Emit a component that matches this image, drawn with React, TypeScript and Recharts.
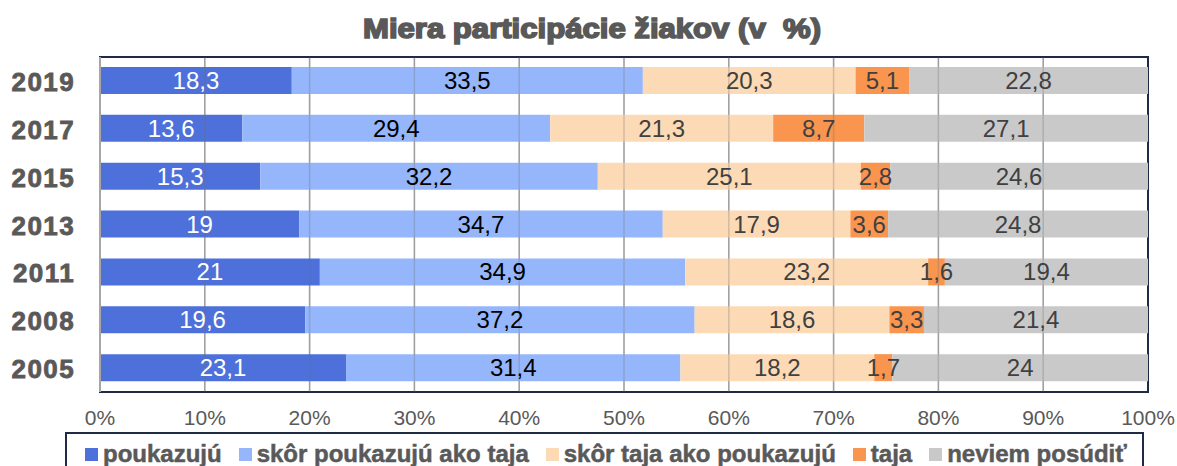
import React from "react";
import {
  BarChart,
  Bar,
  XAxis,
  YAxis,
  CartesianGrid,
  LabelList,
  ReferenceLine,
  ReferenceArea,
} from "recharts";

const years = ["2019", "2017", "2015", "2013", "2011", "2008", "2005"];
const poukazuju = [18.3, 13.6, 15.3, 19, 21, 19.6, 23.1];
const skorPoukazuju = [33.5, 29.4, 32.2, 34.7, 34.9, 37.2, 31.4];
const skorTaja = [20.3, 21.3, 25.1, 17.9, 23.2, 18.6, 18.2];
const taja = [5.1, 8.7, 2.8, 3.6, 1.6, 3.3, 1.7];
const neviem = [22.8, 27.1, 24.6, 24.8, 19.4, 21.4, 24];
const xTicks = [0, 0.1, 0.2, 0.3, 0.4, 0.5, 0.6, 0.7, 0.8, 0.9, 1];

const series = [
  { key: "poukazuju", name: "poukazujú", color: "#4D70DA", label: "#ffffff" },
  { key: "skorPoukazuju", name: "skôr poukazujú ako taja", color: "#96B6FB", label: "#000000" },
  { key: "skorTaja", name: "skôr taja ako poukazujú", color: "#FDDAB6", label: "#404040" },
  { key: "taja", name: "taja", color: "#FA954F", label: "#404040" },
  { key: "neviem", name: "neviem posúdiť", color: "#C9C9C9", label: "#404040" },
];

const data = years.map((year, i) => ({
  year,
  poukazuju: poukazuju[i],
  skorPoukazuju: skorPoukazuju[i],
  skorTaja: skorTaja[i],
  taja: taja[i],
  neviem: neviem[i],
}));

const FONT = "'Liberation Sans', Arial, sans-serif";
const TEXT = "#595959";
const FRAME = "#1F2A44";

const fmt = (v: any) => String(v).replace(".", ",");

const XTick = (props: any) => {
  const { x, y, payload } = props;
  return (
    <text
      x={x}
      y={y + 25}
      textAnchor="middle"
      dominantBaseline="central"
      fontFamily={FONT}
      fontSize={21}
      fill={TEXT}
    >
      {Math.round(payload.value * 100)}%
    </text>
  );
};

const YTick = (props: any) => {
  const { y, payload } = props;
  return (
    <text
      x={75}
      y={y + 1}
      textAnchor="end"
      dominantBaseline="central"
      fontFamily={FONT}
      fontSize={26}
      fontWeight={700}
      fill={TEXT}
      stroke={TEXT}
      strokeWidth={0.8}
      letterSpacing={1.4}
    >
      {payload.value}
    </text>
  );
};

export default function App() {
  return (
    <div
      style={{
        position: "absolute",
        left: 0,
        top: 0,
        width: 1177,
        height: 466,
        background: "#fff",
        overflow: "hidden",
        fontFamily: FONT,
      }}
    >
      <svg width={1177} height={57} style={{ position: "absolute", left: 0, top: 0 }}>
        <text
          x={592}
          y={38}
          textAnchor="middle"
          textLength={458}
          lengthAdjust="spacingAndGlyphs"
          fontFamily={FONT}
          fontSize={27}
          fontWeight={900}
          fill={TEXT}
          stroke={TEXT}
          strokeWidth={1.6}
          style={{ whiteSpace: "pre" }}
        >
          {"Miera participácie žiakov (v \u00A0%)"}
        </text>
      </svg>

      <BarChart
        width={1177}
        height={466}
        data={data}
        layout="vertical"
        stackOffset="expand"
        barSize={27}
        margin={{ top: 57, right: 29, bottom: 34, left: 0 }}
      >
        <CartesianGrid horizontal={false} stroke="#B3B3B3" strokeWidth={1.5} />
        <XAxis
          type="number"
          domain={[0, 1]}
          ticks={xTicks}
          axisLine={false}
          tickLine={false}
          tickSize={0}
          tickMargin={0}
          height={40}
          tick={<XTick />}
          interval={0}
        />
        <YAxis
          type="category"
          dataKey="year"
          width={100}
          axisLine={false}
          tickLine={false}
          tick={<YTick />}
          interval={0}
        />
        {series.map((s) => (
          <Bar
            key={s.key}
            dataKey={s.key}
            name={s.name}
            stackId="a"
            fill={s.color}
            isAnimationActive={false}
          >
            <LabelList
              dataKey={s.key}
              position="center"
              formatter={fmt}
              fill={s.label}
              fontSize={24}
              fontFamily={FONT}
            />
          </Bar>
        ))}
        {xTicks.slice(1, -1).map((t) => (
          <ReferenceLine key={t} x={t} stroke="#6f6f6f" strokeOpacity={0.3} strokeWidth={1.5} />
        ))}
        <ReferenceArea x1={0} x2={1} fill="none" stroke={FRAME} strokeWidth={2} />
        <ReferenceLine x={0} stroke="#A6A6A6" strokeWidth={2} />
      </BarChart>

      <div
        style={{
          position: "absolute",
          left: 65,
          top: 432,
          width: 1079,
          height: 50,
          border: `2px solid ${FRAME}`,
          boxSizing: "border-box",
          display: "flex",
          alignItems: "flex-start",
          paddingLeft: 18,
          paddingTop: 7,
        }}
      >
        {series.map((s) => (
          <div
            key={s.key}
            style={{ display: "flex", alignItems: "center", marginRight: 17, height: 26 }}
          >
            <span
              style={{
                width: 13,
                height: 13,
                background: s.color,
                display: "inline-block",
                marginRight: 5,
              }}
            />
            <span
              style={{
                fontSize: 24,
                fontWeight: 700,
                color: TEXT,
                WebkitTextStroke: `0.5px ${TEXT}`,
                whiteSpace: "nowrap",
              }}
            >
              {s.name}
            </span>
          </div>
        ))}
      </div>
    </div>
  );
}
